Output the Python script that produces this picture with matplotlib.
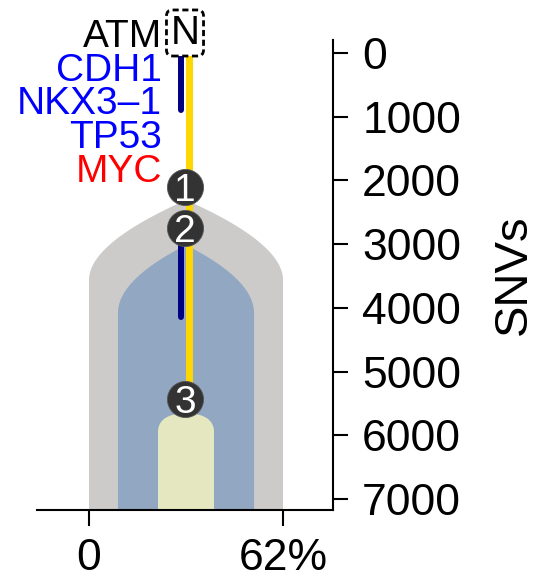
import numpy as np
import matplotlib
matplotlib.use("Agg")
import matplotlib.pyplot as plt

plt.rcParams['font.family'] = ['Liberation Sans', 'DejaVu Sans']

# --- data ---
node_ids = ['1', '2', '3']
node_snv = [2098, 2747, 5431]

clone_ccf = [0.62, 0.435, 0.179]           # width of each clone (cell fraction)
clone_top = [2308, 3014, 5651]             # SNV where each clone starts
clone_colors = ['#cccbca', '#91a7c2', '#e4e7c0']

trunk_snv = [0, 5431]                      # yellow branch
driver_segments = [[0, 895], [2747, 4144]]  # navy segments

gene_labels = ['ATM', 'CDH1', 'NKX3\u20131', 'TP53', 'MYC']
gene_colors = ['black', 'blue', 'blue', 'blue', 'red']

y_ticks = [0, 1000, 2000, 3000, 4000, 5000, 6000, 7000]
x_ticks = [0, 0.62]
x_ticklabels = ['0', '62%']

# --- style / layout ---
center = 0.31
shoulder = [1256, 1068, 300]   # how far down each shape widens
bend = [0.54, 0.51, 0.05]      # control point position for the shoulder curve
ybot = 7173


def clone_shape(c, hw, y0, rise, k, ybottom):
    t = np.linspace(0, 1, 80)
    x = (1 - t) ** 2 * c + 2 * (1 - t) * t * (c + hw) + t ** 2 * (c + hw)
    y = (1 - t) ** 2 * y0 + 2 * (1 - t) * t * (y0 + k * rise) + t ** 2 * (y0 + rise)
    xr = np.append(x, c + hw)
    yr = np.append(y, ybottom)
    xl = 2 * c - xr[::-1]
    yl = yr[::-1]
    return np.concatenate([xl, xr]), np.concatenate([yl, yr])


fig = plt.figure(figsize=(5.53, 5.78), dpi=100)
ax = fig.add_axes([37 / 553, 1 - 510 / 578, 296 / 553, 470 / 578])

for ccf, top, rise, k, col in zip(clone_ccf, clone_top, shoulder, bend, clone_colors):
    xs, ys = clone_shape(center, ccf / 2, top, rise, k, ybot + 50)
    ax.fill(xs, ys, color=col, lw=0, zorder=1)

# branches
ax.plot([center + 0.0096, center + 0.0096], trunk_snv, color='#ffd700', lw=5,
        solid_capstyle='butt', zorder=2)
for seg in driver_segments:
    ax.plot([center - 0.0160, center - 0.0160], seg, color='#000080', lw=4.3,
            solid_capstyle='round', zorder=3)

# nodes
ax.scatter([center - 0.003] * len(node_snv), node_snv, s=26 ** 2, color='#333333',
           edgecolor='#555555', linewidth=0.6, zorder=4)
for lab, snv in zip(node_ids, node_snv):
    ax.text(center - 0.003, snv, lab, color='white', fontsize=28, ha='center',
            va='center_baseline', zorder=5)

# normal node box
fig.text(185 / 553, 1 - 44 / 578, 'N', fontsize=29, ha='center', va='baseline',
         bbox=dict(boxstyle='round,pad=0.1,rounding_size=0.15', fc='white',
                   ec='black', lw=2, ls=(0, (2.2, 1.3))), zorder=6)

# gene labels
base0, step = 47, 33.7
for i, (g, col) in enumerate(zip(gene_labels, gene_colors)):
    fig.text(162 / 553, 1 - (base0 + i * step) / 578, g, color=col, fontsize=28,
             ha='right', va='baseline')

ax.set_xlim(-0.1662, 0.7798)
ax.set_ylim(ybot, -204)

ax.spines['left'].set_visible(False)
ax.spines['top'].set_visible(False)
ax.spines['right'].set_linewidth(1.5)
ax.spines['bottom'].set_linewidth(1.5)
ax.yaxis.tick_right()
ax.yaxis.set_label_position('right')
ax.set_yticks(y_ticks)
ax.set_xticks(x_ticks)
ax.set_xticklabels(x_ticklabels)
ax.tick_params(axis='y', direction='out', length=11, width=1.5, labelsize=32, pad=10)
ax.tick_params(axis='x', direction='out', length=11.5, width=1.5, labelsize=32, pad=9)
ax.set_ylabel('SNVs', fontsize=34, labelpad=22)

fig.savefig('out.png', dpi=100)
